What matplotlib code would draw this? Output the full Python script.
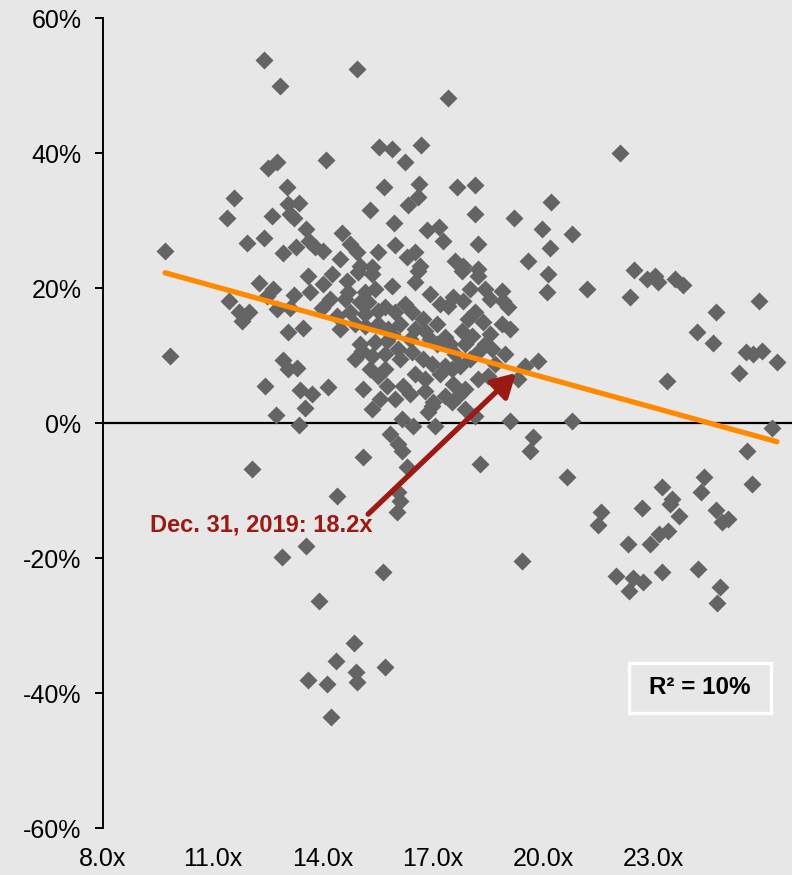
import matplotlib
matplotlib.use('Agg')
from matplotlib import pyplot as plt
from matplotlib.patches import Rectangle, FancyArrowPatch

# forward P/E (x) vs subsequent return in % (y)
pe = [12.39, 12.83, 14.93, 12.75, 12.50, 14.08, 13.02, 11.57, 13.35, 13.05,
      11.38, 12.61, 13.10, 13.21, 13.54, 14.52, 9.69, 11.93, 12.39, 12.91,
      13.26, 13.62, 13.78, 14.00, 14.74, 14.93, 14.46, 15.01,
      17.41, 15.53, 15.88, 16.67, 16.24, 15.66, 16.62, 16.59, 16.32, 17.65,
      18.15, 15.28, 15.94, 20.22, 19.21, 18.15, 16.84, 17.16, 17.27, 19.97,
      20.79, 15.96, 15.50, 16.51, 16.29, 16.65, 18.23, 20.19, 19.59, 17.60,
      17.82, 18.23, 15.34,
      22.10, 22.48, 22.84, 23.05, 23.14, 23.60, 23.82, 21.20, 22.37, 25.89,
      24.72, 24.20, 24.64, 25.54, 25.73, 25.97, 26.38, 25.35, 23.38, 26.25,
      25.56, 24.39, 23.25, 24.31, 25.70, 23.52,
      21.58, 21.50, 22.70, 23.46, 23.71, 24.72, 24.88, 25.05, 23.16, 23.41,
      22.92, 22.32, 21.99, 22.45, 22.73, 22.35, 23.25, 24.23, 24.83, 24.75,
      12.25, 13.59, 12.64, 12.47, 11.44, 13.21, 13.65, 14.00, 14.25, 14.65,
      14.95, 11.71, 11.98, 11.79, 12.75, 13.10, 13.97, 14.38, 14.74, 15.01,
      13.05, 13.45, 14.46, 9.83, 12.91, 13.05, 13.29, 12.42, 13.37, 13.70,
      14.14, 15.09, 12.72, 13.51, 13.35, 12.06, 15.09, 14.38,
      13.54, 12.88, 13.89, 14.85, 14.35, 14.90, 14.93, 13.59, 14.11, 14.22,
      16.02, 16.10, 19.43, 15.64, 15.69,
      15.34, 16.59, 17.79, 18.23, 20.14, 20.11, 16.51, 15.88, 15.42, 15.15,
      18.88, 18.91, 19.05, 17.55, 17.82, 17.41, 15.23, 15.69, 15.96, 16.43,
      16.73, 17.11, 18.15, 18.36, 17.95, 18.88, 19.10, 15.15, 15.50, 15.77,
      16.51, 16.78, 17.33, 17.46, 17.11, 17.79, 18.06, 18.61, 18.23, 15.42,
      15.75, 16.05, 15.34, 15.69, 16.10, 16.43, 16.73, 16.97, 17.33, 17.52,
      17.74, 18.23, 18.50, 19.51, 19.32, 19.86, 15.69, 15.50, 15.75, 16.18,
      16.78, 17.00, 17.33, 17.55, 17.68, 17.87, 16.86, 16.97, 17.87, 18.15,
      17.52, 16.16, 16.45, 17.05, 19.10, 20.79, 15.83, 16.05, 16.16, 19.73,
      19.65, 18.28, 20.65, 16.29, 16.05,
      14.60, 14.87, 15.15, 14.19, 14.68, 15.50, 16.10, 16.37, 15.88, 15.06,
      16.24, 15.01, 14.87, 15.28, 16.92, 17.60, 17.19, 17.87, 18.01, 16.78,
      16.37, 15.96, 15.55, 16.51, 18.55, 18.42, 18.69, 18.96, 16.92, 17.19,
      18.01, 18.42, 18.55, 15.34]
ret = [53.8, 50.0, 52.4, 38.7, 37.8, 39.0, 35.0, 33.4, 32.6, 32.5,
       30.4, 30.6, 31.0, 30.3, 28.8, 28.2, 25.5, 26.7, 27.4, 25.2,
       26.1, 27.0, 26.1, 25.5, 26.5, 25.4, 24.3, 23.3,
       48.2, 40.9, 40.6, 41.2, 38.7, 35.0, 35.4, 33.5, 32.3, 34.9,
       35.2, 31.6, 29.7, 32.8, 30.4, 30.9, 28.6, 29.1, 27.0, 28.8,
       28.0, 26.3, 25.4, 25.4, 24.6, 23.3, 26.5, 26.0, 24.0, 24.0,
       23.3, 22.8, 23.1,
       40.0, 22.7, 21.4, 21.8, 20.9, 21.4, 20.5, 19.9, 18.7, 18.1,
       16.5, 13.5, 11.9, 10.5, 10.2, 10.7, 9.0, 7.4, 6.2, -0.7,
       -4.2, -8.0, -9.5, -10.2, -9.0, -11.3,
       -13.2, -15.1, -12.6, -12.0, -13.8, -12.9, -14.7, -14.2, -16.5, -16.0,
       -17.9, -17.9, -22.7, -23.0, -23.6, -24.9, -22.1, -21.7, -24.3, -26.7,
       20.8, 21.8, 19.9, 18.8, 18.1, 19.0, 19.4, 20.6, 22.1, 21.1,
       22.4, 16.5, 16.5, 15.1, 16.9, 17.1, 17.1, 15.9, 16.5, 17.9,
       13.5, 14.1, 13.9, 9.9, 9.3, 8.0, 8.2, 5.5, 4.9, 4.3,
       5.3, 5.0, 1.2, 2.2, -0.3, -6.8, -5.0, -10.8,
       -18.2, -19.9, -26.3, -32.6, -35.3, -36.9, -38.3, -38.1, -38.7, -43.5,
       -13.2, -11.6, -20.5, -22.0, -36.2,
       22.1, 22.5, 22.5, 21.8, 22.1, 19.4, 20.9, 20.3, 19.9, 19.4,
       19.6, 18.1, 17.2, 18.7, 18.1, 17.4, 17.9, 17.2, 16.5, 16.5,
       15.4, 14.7, 16.5, 15.0, 15.4, 14.7, 13.9, 14.4, 14.7, 13.9,
       13.9, 13.6, 12.8, 11.7, 11.7, 13.6, 12.9, 11.0, 10.5, 12.0,
       12.2, 11.0, 9.9, 10.2, 9.5, 10.5, 9.5, 8.8, 8.5, 8.0,
       8.5, 6.5, 7.0, 8.5, 6.5, 9.2, 8.0, 7.0, 5.5, 5.5,
       4.7, 3.1, 4.0, 5.8, 4.0, 5.0, 1.6, 2.5, 2.1, 1.0,
       3.1, 0.6, -0.4, -0.4, 0.3, 0.3, -1.6, -3.1, -4.2, -2.1,
       -4.2, -6.1, -8.0, -6.5, -10.2,
       18.4, 14.7, 16.2, 18.4, 19.4, 16.6, 14.7, 12.5, 13.2, 10.7,
       17.7, 11.7, 9.5, 8.0, 12.5, 10.2, 7.3, 11.7, 9.5, 6.5,
       4.3, 3.6, 3.6, 7.3, 13.2, 11.7, 8.8, 10.2, 19.1, 17.7,
       19.9, 19.9, 18.4, 2.1]

# linear trend (return % = a + b * P/E)
trend_a = 36.8
trend_b = -1.50

x_ticks = [8, 11, 14, 17, 20, 23]
x_labels = ['8.0x', '11.0x', '14.0x', '17.0x', '20.0x', '23.0x']
y_ticks = [-60, -40, -20, 0, 20, 40, 60]
y_labels = ['-60%', '-40%', '-20%', '0%', '20%', '40%', '60%']

current_label = 'Dec. 31, 2019: 18.2x'
arrow_from = (15.23, -13.5)
arrow_to = (19.26, 7.4)
r2_text = 'R\u00b2 = 10%'

bg = '#e7e7e7'
plt.rcParams['font.family'] = ['Liberation Sans', 'DejaVu Sans']

fig = plt.figure(figsize=(7.92, 8.75), dpi=100)
fig.patch.set_facecolor(bg)
ax = fig.add_axes([0.1301, 0.0537, 0.8699, 0.9257])
ax.set_facecolor(bg)

ax.axhline(0, color='black', lw=1.6, zorder=1)
ax.plot(pe, ret, 'D', ms=9, color='#646464', mec='none', zorder=2)

x0, x1 = min(pe), max(pe)
ax.plot([x0, x1], [trend_a + trend_b * x0, trend_a + trend_b * x1],
        color='#ff8a00', lw=3.8, solid_capstyle='round', zorder=3)

ax.add_patch(FancyArrowPatch(arrow_from, arrow_to, arrowstyle='-|>,head_length=14,head_width=8',
                             color='#9b1a14', lw=3.8, shrinkA=0, shrinkB=0, zorder=4))
ax.text(9.28, -15.1, current_label, color='#9b1a14', fontsize=17,
        fontweight='bold', ha='left', va='center', zorder=5)

ax.add_patch(Rectangle((22.35, -42.9), 3.87, 7.4, facecolor=bg,
                       edgecolor='white', lw=2.4, zorder=5))
ax.text(24.28, -39.2, r2_text, fontsize=17.5, fontweight='bold',
        ha='center', va='center', zorder=6)

ax.set_xlim(8, 26.79)
ax.set_ylim(-60, 60)
ax.set_xticks(x_ticks)
ax.set_xticklabels(x_labels)
ax.set_yticks(y_ticks)
ax.set_yticklabels(y_labels)
for s in ['top', 'right', 'bottom']:
    ax.spines[s].set_visible(False)
ax.spines['left'].set_linewidth(1.4)
ax.tick_params(axis='y', length=5.5, width=1.4, pad=10, labelsize=18)
ax.tick_params(axis='x', length=0, pad=14, labelsize=18)

fig.savefig('out.png', dpi=100, facecolor=bg)
